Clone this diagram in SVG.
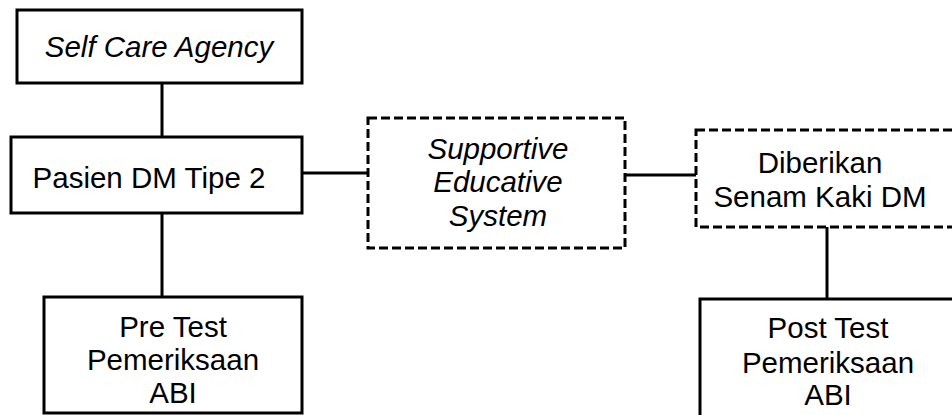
<svg xmlns="http://www.w3.org/2000/svg" width="952" height="415" viewBox="0 0 952 415">
<style>
.box{fill:#fff;stroke:#000;stroke-width:3}
.dash{fill:#fff;stroke:#000;stroke-width:3;stroke-dasharray:9 4}
.t{font-family:"Liberation Sans",Arial,sans-serif;font-size:29.5px;fill:#000;text-anchor:middle}
.i{font-style:italic}
.c{stroke:#000;stroke-width:3;fill:none}
</style>
<rect width="952" height="415" fill="#fff"/>
<g id="connectors">
<line class="c" x1="162" y1="83" x2="162" y2="137"/>
<line class="c" x1="162" y1="213" x2="162" y2="297"/>
<line class="c" x1="302" y1="173" x2="368" y2="173"/>
<line class="c" x1="625" y1="175" x2="696" y2="175"/>
<line class="c" x1="827" y1="227" x2="827" y2="299"/>
</g>
<g id="self-care-agency">
<rect class="box" x="17" y="10" width="285" height="73"/>
<text class="t i" x="159" y="57">Self Care Agency</text>
</g>
<g id="pasien-dm">
<rect class="box" x="11" y="137" width="291" height="76"/>
<text class="t" x="149" y="188">Pasien DM Tipe 2</text>
</g>
<g id="pre-test">
<rect class="box" x="44" y="297" width="258" height="116"/>
<text class="t" x="173" y="337">Pre Test</text>
<text class="t" x="173" y="370">Pemeriksaan</text>
<text class="t" x="173" y="403">ABI</text>
</g>
<g id="supportive-educative">
<rect class="dash" x="368" y="118" width="257" height="130"/>
<text class="t i" x="498" y="159">Supportive</text>
<text class="t i" x="498" y="192">Educative</text>
<text class="t i" x="498" y="226">System</text>
</g>
<g id="senam-kaki">
<rect class="dash" x="696" y="130" width="270" height="97"/>
<text class="t" x="820" y="173">Diberikan</text>
<text class="t" x="820" y="207">Senam Kaki DM</text>
</g>
<g id="post-test">
<rect class="box" x="700" y="299" width="270" height="130"/>
<text class="t" x="828" y="338">Post Test</text>
<text class="t" x="828" y="373">Pemeriksaan</text>
<text class="t" x="828" y="405">ABI</text>
</g>
</svg>
